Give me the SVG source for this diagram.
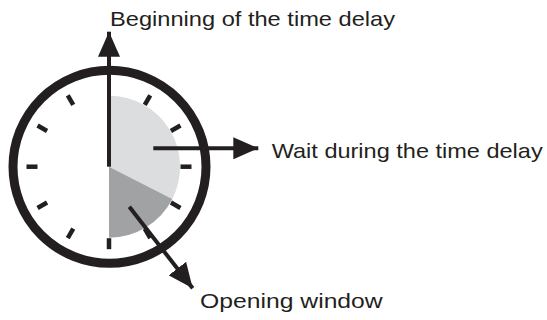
<svg xmlns="http://www.w3.org/2000/svg" width="547" height="320" viewBox="0 0 547 320">
<style>
.lbl{font-family:"Liberation Sans",Arial,sans-serif;font-size:21px;fill:#231f20}
.tick{stroke:#231f20;stroke-width:4.5}
.arr{stroke:#231f20;stroke-width:4;fill:none}
</style>
<defs>
<marker id="ah" markerUnits="userSpaceOnUse" markerWidth="26" markerHeight="22" viewBox="0 0 26 22" refX="25" refY="11" orient="auto">
<path d="M0,0 L25,11 L0,22 Z" fill="#231f20"/>
</marker>
</defs>
<rect width="547" height="320" fill="#fff"/>
<g id="clock">
<path d="M109,166.7 L109,95.7 A71,71 0 0 1 172.3,199 Z" fill="#dcdddf"/>
<path d="M109,166.7 L172.3,199 A71,71 0 0 1 109,237.7 Z" fill="#a1a2a4"/>
<g transform="translate(109,166.7)">
<line class="tick" x1="0" y1="-71.5" x2="0" y2="-82.5" transform="rotate(30)"/>
<line class="tick" x1="0" y1="-71.5" x2="0" y2="-82.5" transform="rotate(60)"/>
<line class="tick" x1="0" y1="-71.5" x2="0" y2="-82.5" transform="rotate(90)"/>
<line class="tick" x1="0" y1="-71.5" x2="0" y2="-82.5" transform="rotate(120)"/>
<line class="tick" x1="0" y1="-71.5" x2="0" y2="-82.5" transform="rotate(150)"/>
<line class="tick" x1="0" y1="-71.5" x2="0" y2="-82.5" transform="rotate(180)"/>
<line class="tick" x1="0" y1="-71.5" x2="0" y2="-82.5" transform="rotate(210)"/>
<line class="tick" x1="0" y1="-71.5" x2="0" y2="-82.5" transform="rotate(240)"/>
<line class="tick" x1="0" y1="-71.5" x2="0" y2="-82.5" transform="rotate(270)"/>
<line class="tick" x1="0" y1="-71.5" x2="0" y2="-82.5" transform="rotate(300)"/>
<line class="tick" x1="0" y1="-71.5" x2="0" y2="-82.5" transform="rotate(330)"/>
</g>
<circle cx="109.5" cy="166.8" r="96.5" fill="none" stroke="#231f20" stroke-width="9"/>
</g>
<g id="connectors">
<line class="arr" x1="109" y1="166.7" x2="109" y2="31.7" marker-end="url(#ah)"/>
<line class="arr" x1="153.3" y1="148.3" x2="258.3" y2="148.3" marker-end="url(#ah)"/>
<line class="arr" x1="129.3" y1="206.7" x2="192.7" y2="288.3" marker-end="url(#ah)"/>
</g>
<g id="label-begin"><text class="lbl" x="110" y="26" textLength="285" lengthAdjust="spacingAndGlyphs">Beginning of the time delay</text></g>
<g id="label-wait"><text class="lbl" x="271.7" y="158.3" textLength="271" lengthAdjust="spacingAndGlyphs">Wait during the time delay</text></g>
<g id="label-open"><text class="lbl" x="200" y="308.3" textLength="182.7" lengthAdjust="spacingAndGlyphs">Opening window</text></g>
</svg>
